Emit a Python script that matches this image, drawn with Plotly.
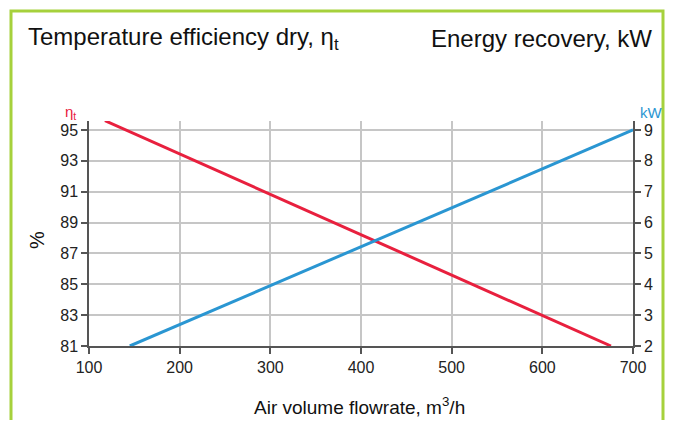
import plotly.graph_objects as go

# Data
flow_eff = [117.6, 675.7]          # m3/h
efficiency = [95.6, 81.0]          # %
flow_kw = [145.0, 700.0]           # m3/h
energy_kw = [2.0, 9.0]             # kW

x_ticks = [100, 200, 300, 400, 500, 600, 700]
y_left_ticks = [81, 83, 85, 87, 89, 91, 93, 95]
y_right_ticks = [2, 3, 4, 5, 6, 7, 8, 9]

RED = "#e8203e"
BLUE = "#2a96d2"
GREEN = "#a6d13c"
AXIS = "#555555"
GRID = "#c6c6c6"
FONT = "Liberation Sans"

# page body has an 8px margin; coordinates below are relative to the figure
W, H = 657, 412
L, R, T, B = 81, 625, 113, 338

fig = go.Figure()
fig.add_trace(go.Scatter(x=flow_eff, y=efficiency, mode="lines",
                         line=dict(color=RED, width=3), yaxis="y", showlegend=False))
fig.add_trace(go.Scatter(x=flow_kw, y=energy_kw, mode="lines",
                         line=dict(color=BLUE, width=3), yaxis="y2", showlegend=False))

def px(xp):
    return (xp - L) / (R - L)

def py(yp):
    return (B - yp) / (B - T)

axis_common = dict(showline=True, linecolor=AXIS, linewidth=1.5, ticks="outside", ticklen=6,
                   tickcolor=AXIS, tickwidth=1.5, zeroline=False, tickfont=dict(size=16))

fig.update_layout(
    width=W, height=H,
    margin=dict(l=L, r=W - R, t=T, b=H - B),
    paper_bgcolor="white", plot_bgcolor="white",
    font=dict(family=FONT, color="#222222", size=16),
    xaxis=dict(range=[100, 700], tickvals=x_ticks, showgrid=True, gridcolor=GRID, gridwidth=1.5,
               **axis_common),
    yaxis=dict(range=[81, 95.58], tickvals=y_left_ticks, showgrid=True, gridcolor=GRID,
               gridwidth=1.5, **axis_common),
    yaxis2=dict(range=[2, 9.29], tickvals=y_right_ticks, overlaying="y", side="right",
                showgrid=False, **axis_common),
    shapes=[dict(type="rect", xref="paper", yref="paper",
                 x0=px(3), x1=px(655), y0=py(440), y1=py(3),
                 line=dict(color=GREEN, width=3), layer="below")],
    annotations=[
        dict(text="Temperature efficiency dry, η<sub>t</sub>", xref="paper", yref="paper",
             x=px(18), y=py(30), xanchor="left", yanchor="middle", showarrow=False,
             font=dict(size=24, color="#111111")),
        dict(text="Energy recovery, kW", xref="paper", yref="paper",
             x=px(646), y=py(30), xanchor="right", yanchor="middle", showarrow=False,
             font=dict(size=24, color="#111111")),
        dict(text="η<sub>t</sub>", xref="paper", yref="paper",
             x=px(62), y=py(104), xanchor="center", yanchor="middle", showarrow=False,
             font=dict(size=15, color=RED)),
        dict(text="kW", xref="paper", yref="paper",
             x=px(643), y=py(104), xanchor="center", yanchor="middle", showarrow=False,
             font=dict(size=15, color=BLUE)),
        dict(text="%", xref="paper", yref="paper", textangle=-90,
             x=px(29), y=py(232), xanchor="center", yanchor="middle", showarrow=False,
             font=dict(size=20, color="#111111")),
        dict(text="Air volume flowrate, m<sup>3</sup>/h", xref="paper", yref="paper",
             x=px(351), y=py(398), xanchor="center", yanchor="middle", showarrow=False,
             font=dict(size=19, color="#111111")),
    ],
)

fig.write_html("out.html")
